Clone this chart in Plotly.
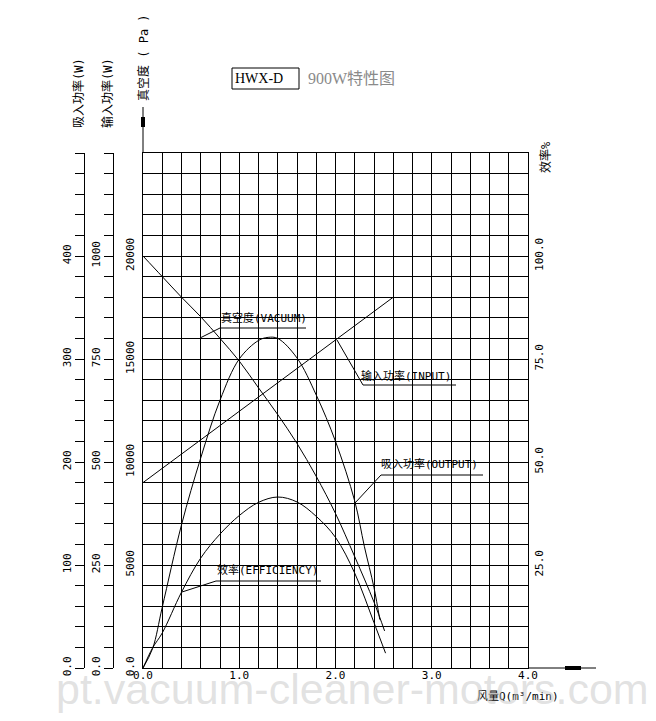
import plotly.graph_objects as go

# ---------------- data ----------------
flow_vac = [0.0, 0.2, 0.4, 0.6, 0.8, 1.0, 1.2, 1.4, 1.6, 1.8, 2.0, 2.2, 2.4, 2.51]
vacuum_pa = [20000, 19000, 18000, 17050, 16000, 14900, 13600, 12300, 10900, 9300, 7500, 5400, 3200, 1800]

flow_out = [0.0, 0.1, 0.2, 0.4, 0.6, 0.8, 1.0, 1.2, 1.3, 1.4, 1.6, 1.8, 2.0, 2.2, 2.3, 2.4, 2.46]
output_w = [0, 19, 59, 139, 204, 260, 300, 318, 321, 320, 301, 265, 220, 162, 118, 78, 47]

flow_in = [0.0, 2.6]
input_w = [450, 900]

flow_eff = [0.0, 0.1, 0.2, 0.4, 0.6, 0.8, 1.0, 1.2, 1.4, 1.6, 1.8, 2.0, 2.2, 2.4, 2.52]
efficiency = [0, 4.9, 8.5, 18.4, 26.7, 32.5, 37.0, 40.2, 41.5, 40.3, 36.8, 31.7, 23.0, 11.0, 3.6]

x_labels = {0.0: "0.0", 1.0: "1.0", 2.0: "2.0", 3.0: "3.0", 4.0: "4.0"}
vac_labels = {0: "0.0", 5000: "5000", 10000: "10000", 15000: "15000", 20000: "20000"}
out_labels = {0: "0.0", 100: "100", 200: "200", 300: "300", 400: "400"}
in_labels = {0: "0.0", 250: "250", 500: "500", 750: "750", 1000: "1000"}
eff_ticks = [25, 50, 75, 100]
eff_labels = ["25.0", "50.0", "75.0", "100.0"]

# ---------------- geometry (reference pixel frame) ----------------
OFF = 8                      # page body margin
W, H = 656 - OFF, 721 - OFF
LEFT, RIGHT, TOP, BOTTOM = 40, 528, 153, 668   # paper area in page pixels
X0PX = 143                   # left edge of grid in page pixels
PW, PH = RIGHT - LEFT, BOTTOM - TOP
ML, MR, MT = LEFT - OFF, W - (RIGHT - OFF), TOP - OFF
MB = H - (BOTTOM - OFF)


def px(xp):
    return (xp - LEFT) / PW


def py(yp):
    return (BOTTOM - yp) / PH


def pa(yp):  # page pixel -> vacuum value (leader geometry)
    return (BOTTOM - yp) / (PH / 25000)


def fx(xp):  # page pixel -> flow value
    return (xp - X0PX) / ((RIGHT - X0PX) / 4.0)


MONO = "DejaVu Sans Mono, Noto Sans CJK SC"

fig = go.Figure()
line = dict(color="black", width=1)
fig.add_trace(go.Scatter(x=flow_vac, y=vacuum_pa, mode="lines", line=dict(**line, shape="spline"),
                         yaxis="y", hoverinfo="skip", name="真空度"))
fig.add_trace(go.Scatter(x=flow_out, y=output_w, mode="lines", line=dict(**line, shape="spline"),
                         yaxis="y2", hoverinfo="skip", name="吸入功率"))
fig.add_trace(go.Scatter(x=flow_in, y=input_w, mode="lines", line=line,
                         yaxis="y3", hoverinfo="skip", name="输入功率"))
fig.add_trace(go.Scatter(x=flow_eff, y=efficiency, mode="lines", line=dict(**line, shape="spline"),
                         yaxis="y4", hoverinfo="skip", name="效率"))

xt = [round(i * 0.2, 1) for i in range(21)]
yt = list(range(0, 25001, 1000))
y2t = list(range(0, 501, 20))
y3t = list(range(0, 1251, 50))

fig.update_layout(
    width=W, height=H,
    margin=dict(l=ML, r=MR, t=MT, b=MB, pad=0),
    paper_bgcolor="white", plot_bgcolor="white",
    showlegend=False,
    font=dict(family=MONO, size=11, color="black"),
    xaxis=dict(
        domain=[(X0PX - LEFT) / PW, 1], range=[0, 4.0],
        tickmode="array", tickvals=xt, ticktext=[x_labels.get(v, "") for v in xt],
        showgrid=True, gridcolor="black", gridwidth=1,
        showline=True, linecolor="black", linewidth=1, mirror=True,
        ticks="", ticklabelstandoff=-3, zeroline=False, fixedrange=True,
        tickfont=dict(family=MONO, size=11),
    ),
    yaxis=dict(
        range=[0, 25000],
        tickmode="array", tickvals=yt, ticktext=[vac_labels.get(v, "") for v in yt],
        showgrid=True, gridcolor="black", gridwidth=1,
        showline=True, linecolor="black", linewidth=1, mirror=True,
        ticks="", ticklabelstandoff=4, zeroline=False, tickangle=-90,
        tickfont=dict(family=MONO, size=11),
    ),
    yaxis2=dict(
        range=[0, 500], overlaying="y", anchor="free", position=px(84), side="left",
        tickmode="array", tickvals=y2t, ticktext=[out_labels.get(v, "") for v in y2t],
        showgrid=False, showline=True, linecolor="black", linewidth=1,
        ticks="outside", ticklen=9, tickcolor="black", tickwidth=1,
        zeroline=False, tickangle=-90, tickfont=dict(family=MONO, size=11),
    ),
    yaxis3=dict(
        range=[0, 1250], overlaying="y", anchor="free", position=px(113), side="left",
        tickmode="array", tickvals=y3t, ticktext=[in_labels.get(v, "") for v in y3t],
        showgrid=False, showline=True, linecolor="black", linewidth=1,
        ticks="outside", ticklen=9, tickcolor="black", tickwidth=1,
        zeroline=False, tickangle=-90, tickfont=dict(family=MONO, size=11),
    ),
    yaxis4=dict(
        range=[0, 125], overlaying="y", anchor="x", side="right",
        tickmode="array", tickvals=eff_ticks, ticktext=eff_labels,
        showgrid=False, showline=False, ticks="", ticklabelstandoff=3,
        zeroline=False, tickangle=-90, tickfont=dict(family=MONO, size=11),
    ),
)

shapes = []
# leader lines and underlines (data coordinates)
leaders = [
    [(200, 338), (220, 328), (306, 328)],
    [(337, 340), (363, 385), (456, 385)],
    [(355, 503), (381, 475), (483, 475)],
    [(182, 592), (216, 581), (321, 581)],
]
for pts in leaders:
    for (a, b), (c, d) in zip(pts[:-1], pts[1:]):
        shapes.append(dict(type="line", xref="x", yref="y", x0=fx(a), y0=pa(b), x1=fx(c), y1=pa(d),
                           line=dict(color="black", width=1)))

# axis arrows (paper coordinates)
shapes.append(dict(type="line", xref="paper", yref="paper", x0=px(143), x1=px(143), y0=py(153), y1=py(107),
                   line=dict(color="black", width=1)))
shapes.append(dict(type="rect", xref="paper", yref="paper", x0=px(141), x1=px(145), y0=py(127), y1=py(117),
                   fillcolor="black", line=dict(width=0)))
shapes.append(dict(type="line", xref="paper", yref="paper", x0=px(528), x1=px(596), y0=py(668), y1=py(668),
                   line=dict(color="black", width=1)))
shapes.append(dict(type="rect", xref="paper", yref="paper", x0=px(565), x1=px(581), y0=py(670), y1=py(666),
                   fillcolor="black", line=dict(width=0)))
# title box
shapes.append(dict(type="rect", xref="paper", yref="paper", x0=px(232), x1=px(299), y0=py(89), y1=py(68),
                   line=dict(color="black", width=1)))
fig.update_layout(shapes=shapes)

ann = []
# curve labels
curve_labels = [
    ("真空度(VACUUM)", 219, 318),
    ("输入功率(INPUT)", 359, 376),
    ("吸入功率(OUTPUT)", 379, 464),
    ("效率(EFFICIENCY)", 215, 570),
]
for t, a, b in curve_labels:
    ann.append(dict(text=t, xref="x", yref="y", x=fx(a), y=pa(b), xanchor="left", yanchor="middle",
                    showarrow=False, font=dict(family=MONO, size=11, color="black")))

# axis titles
axis_titles = [
    ("吸入功率(W)", 78, 93),
    ("输入功率(W)", 107, 93),
    ("真空度 ( Pa )", 143, 58),
    ("效率%", 545, 157),
]
for t, a, b in axis_titles:
    ann.append(dict(text=t, xref="paper", yref="paper", x=px(a), y=py(b), xanchor="center", yanchor="middle",
                    textangle=-90, showarrow=False, font=dict(family=MONO, size=12, color="black")))
ann.append(dict(text="风量Q(m³/min)", xref="paper", yref="paper", x=px(518), y=py(697),
                xanchor="center", yanchor="middle", showarrow=False,
                font=dict(family=MONO, size=11, color="black")))

# title
ann.append(dict(text="HWX-D", xref="paper", yref="paper", x=px(233), y=py(79), xanchor="left", yanchor="middle",
                showarrow=False, font=dict(family="Liberation Serif", size=14, color="black")))
ann.append(dict(text="900W特性图", xref="paper", yref="paper", x=px(306), y=py(79), xanchor="left",
                yanchor="middle", showarrow=False,
                font=dict(family="Liberation Serif, Noto Sans CJK SC", size=16, color="#8a8a8a")))

# watermark
ann.append(dict(text="pt.vacuum-cleaner-motors.com", xref="paper", yref="paper", x=px(54), y=py(689),
                xanchor="left", yanchor="middle", showarrow=False,
                font=dict(family="Liberation Sans", size=43, color="rgba(190,190,190,0.45)")))

fig.update_layout(annotations=ann)

fig.write_html("out.html")
